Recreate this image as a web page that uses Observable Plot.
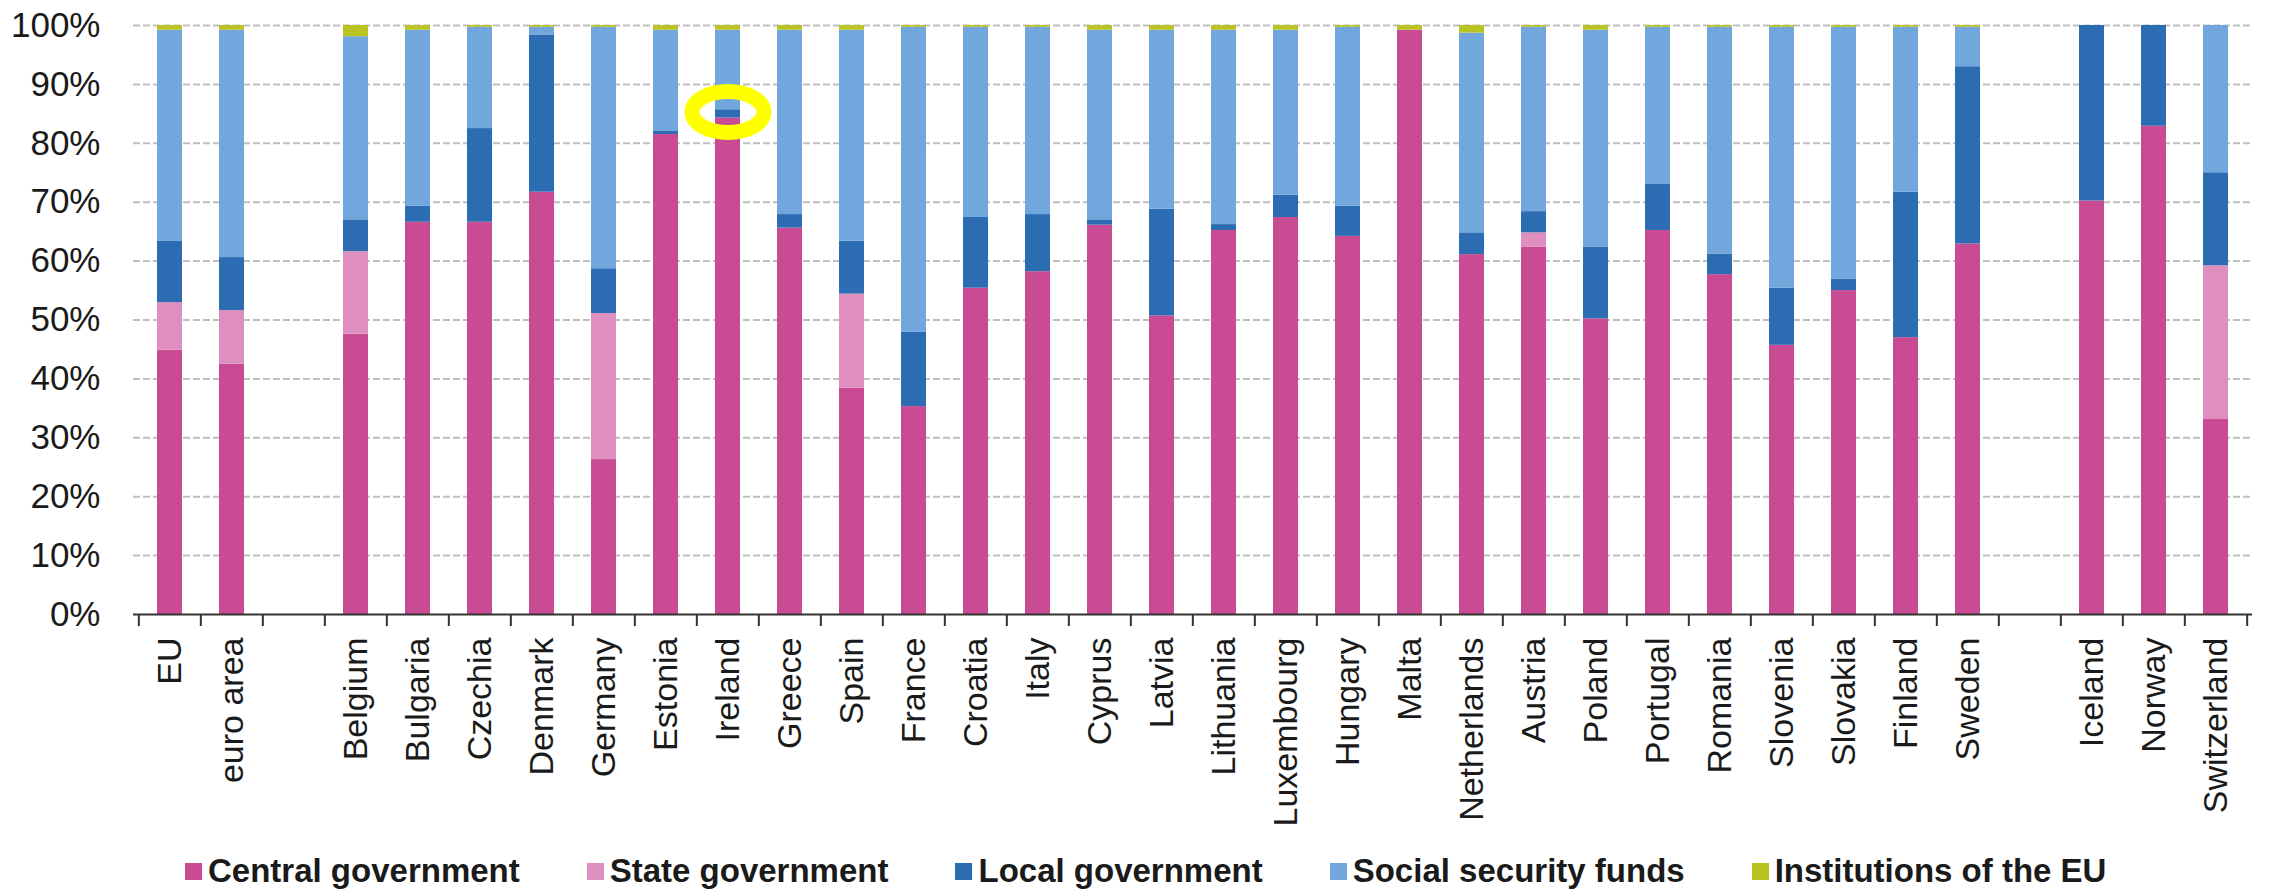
<!DOCTYPE html>
<html>
<head>
<meta charset="utf-8">
<script src="https://cdn.jsdelivr.net/npm/d3@7"></script>
<script src="https://cdn.jsdelivr.net/npm/@observablehq/plot@0.6"></script>
<style>
  body { margin: 0; background: #fff; font-family: "Liberation Sans", Arial, sans-serif; }
  #legend { display: flex; gap: 67px; padding-left: 185px; height: 42px; align-items: center;
            font-weight: bold; font-size: 33px; color: #1a1a1a; white-space: nowrap; }
  .item { display: flex; align-items: center; gap: 6px; }
  .sw { width: 17px; height: 17px; display: inline-block; }
</style>
</head>
<body>
<div id="chart"></div>
<div id="legend"></div>
<script>
// x slots (gaps included as blank categories)
const slots = ["EU", "euro area", "_gap1", "Belgium", "Bulgaria", "Czechia", "Denmark", "Germany", "Estonia",
  "Ireland", "Greece", "Spain", "France", "Croatia", "Italy", "Cyprus", "Latvia", "Lithuania", "Luxembourg",
  "Hungary", "Malta", "Netherlands", "Austria", "Poland", "Portugal", "Romania", "Slovenia", "Slovakia",
  "Finland", "Sweden", "_gap2", "Iceland", "Norway", "Switzerland"];

const countries = ["EU", "euro area", "Belgium", "Bulgaria", "Czechia", "Denmark", "Germany", "Estonia",
  "Ireland", "Greece", "Spain", "France", "Croatia", "Italy", "Cyprus", "Latvia", "Lithuania", "Luxembourg",
  "Hungary", "Malta", "Netherlands", "Austria", "Poland", "Portugal", "Romania", "Slovenia", "Slovakia",
  "Finland", "Sweden", "Iceland", "Norway", "Switzerland"];

const sectors = ["Central government", "State government", "Local government", "Social security funds", "Institutions of the EU"];
const colors = ["#c84b93", "#df8fbf", "#2b6cb3", "#72a7dd", "#b9c321"];

// shares (%) per country, same order as countries
const central = [44.9, 42.5, 47.6, 66.6, 66.6, 71.7, 26.3, 81.5, 84.3, 65.6, 38.4, 35.3, 55.4, 58.2, 66.1, 50.7,
  65.2, 67.4, 64.2, 99.2, 61.1, 62.4, 50.2, 65.2, 57.7, 45.7, 55.0, 47.0, 62.9, 70.2, 82.9, 33.1];
const state = [8.1, 9.1, 14.0, 0, 0, 0, 24.8, 0, 0, 0, 16.0, 0, 0, 0, 0, 0,
  0, 0, 0, 0, 0, 2.4, 0, 0, 0, 0, 0, 0, 0, 0, 0, 26.1];
const local = [10.4, 9.0, 5.4, 2.7, 15.9, 26.7, 7.6, 0.6, 1.4, 2.3, 9.0, 12.6, 12.0, 9.7, 0.9, 18.1,
  1.0, 3.8, 5.1, 0, 3.7, 3.6, 12.2, 7.8, 3.5, 9.7, 1.9, 24.7, 30.1, 29.8, 17.1, 15.8];
const social = [35.9, 38.6, 31.1, 29.9, 17.2, 1.3, 41.0, 17.1, 13.5, 31.3, 35.8, 51.8, 32.3, 31.8, 32.2, 30.4,
  33.0, 28.0, 30.4, 0, 33.9, 31.3, 36.8, 26.7, 38.5, 44.3, 42.8, 28.0, 6.7, 0, 0, 25.0];
const euInst = [0.8, 0.8, 1.9, 0.8, 0.3, 0.3, 0.3, 0.8, 0.8, 0.8, 0.8, 0.3, 0.3, 0.3, 0.8, 0.8,
  0.8, 0.8, 0.3, 0.8, 1.3, 0.3, 0.8, 0.3, 0.3, 0.3, 0.3, 0.3, 0.3, 0, 0, 0];

const yTicks = [0, 0.1, 0.2, 0.3, 0.4, 0.5, 0.6, 0.7, 0.8, 0.9, 1];
const highlight = [{country: "Ireland", share: 0.853}];

const series = [central, state, local, social, euInst];
const rows = countries.flatMap((c, i) => sectors.map((s, j) => ({country: c, sector: s, value: series[j][i]})));

const W = 2270, H = 850, ML = 133, MR = 18, MT = 25, MB = 236;
const step = (W - ML - MR) / slots.length;

// ellipse outline symbol for the highlight ring
const ellipse = {
  draw(ctx) {
    const rx = 36, ry = 20.5, k = 0.5523;
    ctx.moveTo(rx, 0);
    ctx.bezierCurveTo(rx, ry * k, rx * k, ry, 0, ry);
    ctx.bezierCurveTo(-rx * k, ry, -rx, ry * k, -rx, 0);
    ctx.bezierCurveTo(-rx, -ry * k, -rx * k, -ry, 0, -ry);
    ctx.bezierCurveTo(rx * k, -ry, rx, -ry * k, rx, 0);
    ctx.closePath();
  }
};

const chart = Plot.plot({
  width: W, height: H,
  marginLeft: ML, marginRight: MR, marginTop: MT, marginBottom: MB,
  style: {fontFamily: "'Liberation Sans', Arial, sans-serif", fontSize: "34px", color: "#1a1a1a", background: "#fff"},
  x: {domain: slots, paddingInner: 0.6, paddingOuter: 0.3},
  y: {domain: [0, 1]},
  color: {domain: sectors, range: colors},
  marks: [
    Plot.gridY({ticks: yTicks.slice(1), stroke: "#bfbfbf", strokeOpacity: 1, strokeWidth: 2, strokeDasharray: "7,3"}),
    Plot.barY(rows, Plot.stackY({x: "country", y: "value", fill: "sector", z: "sector", order: sectors, offset: "normalize"})),
    Plot.ruleY([0], {stroke: "#333", strokeWidth: 2}),
    Plot.axisY({ticks: yTicks, tickFormat: d3.format(".0%"), tickSize: 0, tickPadding: 33, fontSize: 35, label: null, color: "#1a1a1a"}),
    Plot.axisX({ticks: slots, tickSize: 12, tickFormat: () => "", dx: -step / 2, label: null, color: "#333", strokeWidth: 2}),
    Plot.axisX({ticks: slots.slice(-1), tickSize: 12, tickFormat: () => "", dx: step / 2, label: null, color: "#333", strokeWidth: 2}),
    Plot.axisX({ticks: slots.filter(d => !d.startsWith("_")), tickSize: 0, tickPadding: 23, tickRotate: -90, fontSize: 34, label: null, color: "#1a1a1a"}),
    Plot.dot(highlight, {x: "country", y: "share", symbol: ellipse, fill: "none", stroke: "#ffff00", strokeWidth: 15})
  ]
});
document.getElementById("chart").appendChild(chart);

const legend = document.getElementById("legend");
sectors.forEach((s, i) => {
  const item = document.createElement("div");
  item.className = "item";
  const sw = document.createElement("span");
  sw.className = "sw";
  sw.style.background = colors[i];
  const t = document.createElement("span");
  t.textContent = s;
  item.appendChild(sw);
  item.appendChild(t);
  legend.appendChild(item);
});
</script>
</body>
</html>
